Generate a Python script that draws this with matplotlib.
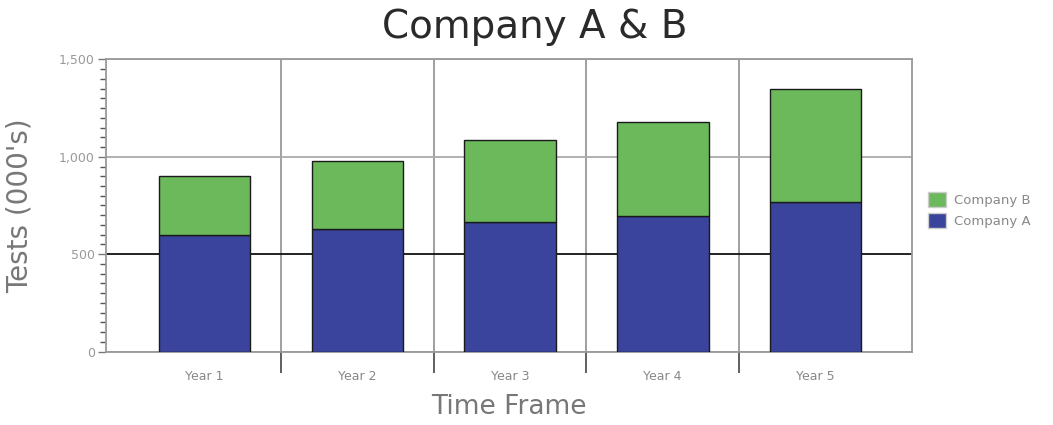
import matplotlib
matplotlib.use("Agg")
import matplotlib.pyplot as plt
from matplotlib.ticker import MultipleLocator, FuncFormatter
from matplotlib.patches import Patch
import numpy as np

categories = ["Year 1", "Year 2", "Year 3", "Year 4", "Year 5"]
company_a = [600, 628, 665, 698, 767]
company_b_total = [903, 976, 1086, 1180, 1348]
company_b = [t - a for t, a in zip(company_b_total, company_a)]

color_a = "#3b449c"
color_b = "#6cb95b"

fig = plt.figure(figsize=(10.53, 4.25), dpi=100)
ax = fig.add_axes([0.1007, 0.1725, 0.7653, 0.688])

x = np.arange(len(categories))
ax.bar(x, company_a, width=0.6, color=color_a, edgecolor="#1a1a1a", linewidth=1.0, zorder=3)
ax.bar(x, company_b, width=0.6, bottom=company_a, color=color_b, edgecolor="#1a1a1a", linewidth=1.0, zorder=3)

ax.set_xlim(-0.646, len(categories) - 1 + 0.632)
ax.set_ylim(0, 1500)

# x ticks: boundaries (major, long) and labels at centers (minor)
ax.set_xticks(np.arange(0.5, len(categories) - 0.5, 1.0))
ax.set_xticklabels([])
ax.set_xticks(x, minor=True)
ax.set_xticklabels(categories, minor=True)
ax.tick_params(axis="x", which="major", length=15, width=1.2, color="#444444")
ax.tick_params(axis="x", which="minor", length=0, pad=13, labelsize=9, labelcolor="#888888")
ax.xaxis.grid(True, which="major", color="#999999", linewidth=1.3, zorder=0)

# y ticks
ax.yaxis.set_major_locator(MultipleLocator(500))
ax.yaxis.set_minor_locator(MultipleLocator(50))
ax.yaxis.set_major_formatter(FuncFormatter(lambda v, p: f"{int(v):,}"))
ax.tick_params(axis="y", which="major", length=6, width=1, color="#777777", labelsize=9, labelcolor="#999999", pad=2)
ax.tick_params(axis="y", which="minor", length=4, width=1, color="#555555")
ax.yaxis.grid(True, which="major", linewidth=1.3, zorder=0)
for line, val in zip(ax.get_ygridlines(), ax.get_yticks()):
    if abs(val - 500) < 1:
        line.set_color("#111111")
    else:
        line.set_color("#aaaaaa")
ax.set_axisbelow(True)

for s in ax.spines.values():
    s.set_color("#999999")
    s.set_linewidth(1.3)

ax.set_xlabel("Time Frame", fontsize=19, color="#777777", labelpad=8)
ax.set_ylabel("Tests (000's)", fontsize=20, color="#777777", labelpad=18)

fig.text(0.508, 0.937, "Company A & B", ha="center", va="center", fontsize=28, color="#2a2a2a")

handles = [Patch(facecolor=color_b, edgecolor="#cccccc", label="Company B"),
           Patch(facecolor=color_a, edgecolor="#cccccc", label="Company A")]
leg = fig.legend(handles=handles, loc="center left", bbox_to_anchor=(0.876, 0.506),
                 frameon=False, fontsize=9.5, handlelength=1.4, handleheight=1.4,
                 handletextpad=0.6, labelspacing=0.4, borderaxespad=0)
for t in leg.get_texts():
    t.set_color("#888888")

fig.savefig("out.png", dpi=100)
